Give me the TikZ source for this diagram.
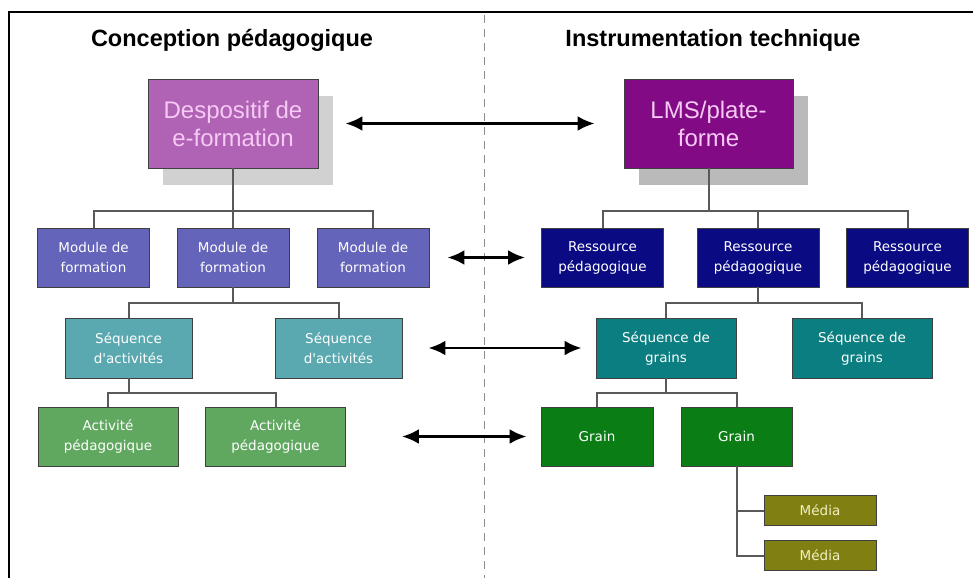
\documentclass[tikz,border=0pt]{standalone}
\usepackage{fontspec}
\setmainfont{Liberation Sans}
\newfontfamily\boxfont{DejaVu Sans}
\usepackage{tikz}
\usetikzlibrary{shadows,positioning,arrows.meta}
\definecolor{despcol}{HTML}{B062B4}
\definecolor{lmscol}{HTML}{820A84}
\definecolor{modcol}{HTML}{6464BA}
\definecolor{rescol}{HTML}{0A0A82}
\definecolor{seqcol}{HTML}{5AA8B0}
\definecolor{sgcol}{HTML}{0A7E80}
\definecolor{actcol}{HTML}{60A860}
\definecolor{graincol}{HTML}{0A7E14}
\definecolor{mediacol}{HTML}{808012}
\definecolor{pinktext}{HTML}{F6CAF4}
\definecolor{yellowtext}{HTML}{F2F0C4}
\tikzstyle{block} = [draw=black!75, line width=0.9pt, rectangle, inner sep=0pt,
    text=white, align=center, font=\boxfont\fontsize{13.5}{20}\selectfont,
    minimum height=59pt, minimum width=112pt]
\tikzstyle{topblock} = [block, minimum width=170pt, minimum height=89pt,
    text=pinktext, font=\fontsize{24}{28}\selectfont]
\tikzstyle{title} = [anchor=base, font=\bfseries\fontsize{23.5}{28}\selectfont]
\tikzstyle{tree} = [draw=black!65, line width=2pt]
\tikzstyle{link} = [draw, line width=2.8pt, {Latex[length=17pt,width=15pt]}-{Latex[length=17pt,width=15pt]}]

\begin{document}
\begin{tikzpicture}[x=1pt, y=-1pt]
	  \useasboundingbox (0,0) rectangle (973,578);
	  % frame and divider
	  \draw [line width=2.5pt] (9,578) -- (9,12) -- (973,12);
	  \draw [black!45, line width=0.9pt, dash pattern=on 8pt off 6pt] (484,15) -- (484,578);
	  \node [title] (tleft) at (232,46) {Conception pédagogique};
	  \node [title] (tright) at (713,46) {Instrumentation technique};
	  % pedagogical side
	  \node [topblock, fill=despcol, drop shadow={shadow xshift=15pt, shadow yshift=-17pt, fill=black!18, opacity=1}] (desp) at (233,123.5) {Despositif de\\e-formation};
	  \node [block, fill=modcol] (modA) at (93.5,257.5) {Module de\\formation};
	  \node [block, fill=modcol] (modB) at (233,257.5) {Module de\\formation};
	  \node [block, fill=modcol] (modC) at (373,257.5) {Module de\\formation};
	  \node [block, fill=seqcol, minimum width=127pt, minimum height=60pt] (seqA) at (128.5,348) {Séquence\\d'activités};
	  \node [block, fill=seqcol, minimum width=127pt, minimum height=60pt] (seqB) at (338.5,348) {Séquence\\d'activités};
	  \node [block, fill=actcol, minimum width=140pt] (actA) at (108,436.5) {Activité\\pédagogique};
	  \node [block, fill=actcol, minimum width=140pt] (actB) at (275.5,436.5) {Activité\\pédagogique};
	  % technical side
	  \node [topblock, fill=lmscol, minimum width=169pt, drop shadow={shadow xshift=15pt, shadow yshift=-17pt, fill=black!27, opacity=1}] (lms) at (708.5,123.5) {LMS/plate-\\forme};
	  \node [block, fill=rescol, minimum width=122pt] (resA) at (602.5,257.5) {Ressource\\pédagogique};
	  \node [block, fill=rescol, minimum width=122pt] (resB) at (758,257.5) {Ressource\\pédagogique};
	  \node [block, fill=rescol, minimum width=122pt] (resC) at (907.5,257.5) {Ressource\\pédagogique};
	  \node [block, fill=sgcol, minimum width=140pt, minimum height=60pt] (sgA) at (666,348) {Séquence de\\grains};
	  \node [block, fill=sgcol, minimum width=140pt, minimum height=60pt] (sgB) at (862,348) {Séquence de\\grains};
	  \node [block, fill=graincol] (grainA) at (597,436.5) {Grain};
	  \node [block, fill=graincol, minimum width=111pt] (grainB) at (736.5,436.5) {Grain};
	  \node [block, fill=mediacol, minimum height=30pt, text=yellowtext] (mediaA) at (820,510.5) {Média};
	  \node [block, fill=mediacol, minimum height=30pt, text=yellowtext] (mediaB) at (820,555.5) {Média};
	  % hierarchy
	  \foreach \c in {modA,modB,modC} \draw [tree] (desp.south) -- ++(0,43) -| (\c.north);
	  \foreach \c in {seqA,seqB} \draw [tree] (modB.south) -- ++(0,16) -| (\c.north);
	  \foreach \c in {actA,actB} \draw [tree] (seqA.south) -- ++(0,15) -| (\c.north);
	  \foreach \c in {resA,resB,resC} \draw [tree] (lms.south) -- ++(0,43) -| (\c.north);
	  \foreach \c in {sgA,sgB} \draw [tree] (resB.south) -- ++(0,16) -| (\c.north);
	  \foreach \c in {grainA,grainB} \draw [tree] (sgA.south) -- ++(0,15) -| (\c.north);
	  \foreach \c in {mediaA,mediaB} \draw [tree] (grainB.south) |- (\c.west);
	  % correspondences
	  \draw [link, shorten <=27pt, shorten >=29pt] (desp.east) -- (lms.west);
	  \draw [link, shorten <=18pt, shorten >=16pt] (modC.east) -- (resA.west);
	  \draw [link, shorten <=26pt, shorten >=14pt] (seqB.east) -- (sgA.west);
	  \draw [link, shorten <=56pt, shorten >=14pt] (actB.east) -- (grainA.west);
	\end{tikzpicture}
\end{document}
